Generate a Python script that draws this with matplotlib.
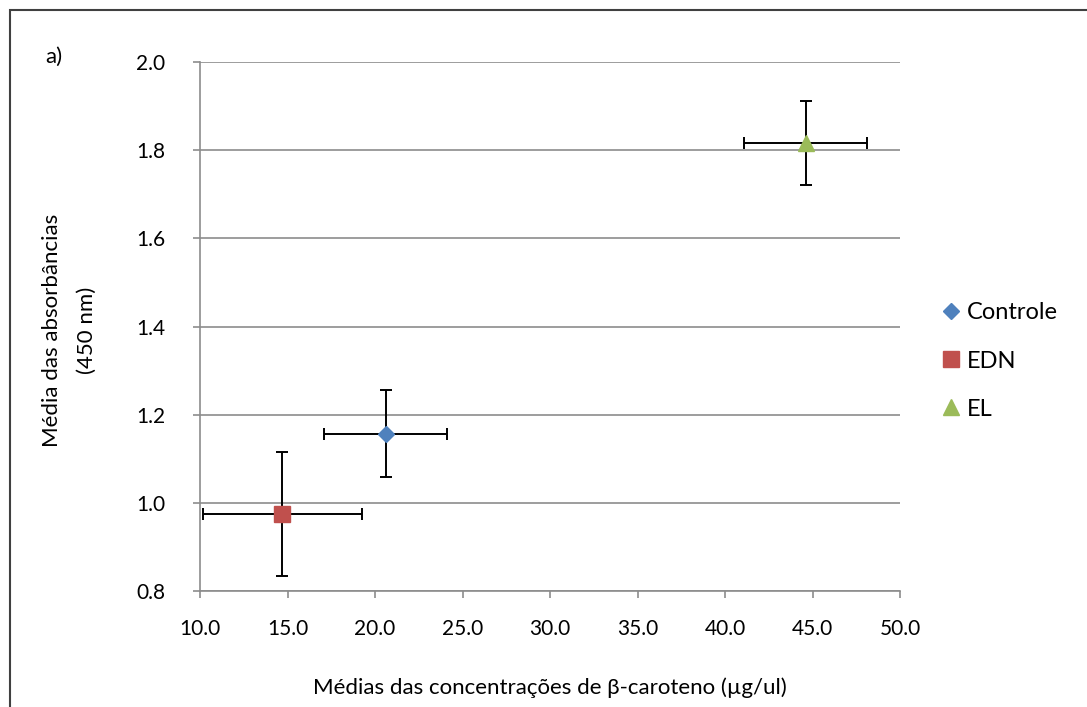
import numpy as np
import matplotlib.pyplot as plt
from matplotlib.patches import Rectangle

plt.rcParams['font.family'] = ['Lato', 'DejaVu Sans']

grupos = ['Controle', 'EDN', 'EL']
conc = [20.6, 14.7, 44.6]          # média beta-caroteno (µg/ul)
conc_err = [3.5, 4.55, 3.5]
absorb = [1.157, 0.975, 1.816]     # média absorbância 450 nm
absorb_err = [0.098, 0.141, 0.095]

cores = ['#4F81BD', '#C0504D', '#9BBB59']
marcadores = ['D', 's', '^']
tamanhos = [8, 11, 11]

fig = plt.figure(figsize=(10.87, 7.07), dpi=100)
ax = fig.add_axes([200 / 1087, 1 - 591 / 707, 700 / 1087, 529 / 707])

for i in range(len(grupos)):
    ax.errorbar(conc[i], absorb[i], xerr=conc_err[i], yerr=absorb_err[i],
                fmt='none', ecolor='black', elinewidth=1.4, capsize=4, capthick=1.4, zorder=3)
    ax.plot(conc[i], absorb[i], marker=marcadores[i], color=cores[i],
            markersize=tamanhos[i], linestyle='none', label=grupos[i], zorder=4)

ax.set_xlim(10, 50)
ax.set_ylim(0.8, 2.0)
ax.set_xticks(np.arange(10, 51, 5))
ax.set_yticks(np.arange(0.8, 2.01, 0.2))
ax.set_xticklabels([f'{v:.1f}' for v in np.arange(10, 51, 5)])
ax.set_yticklabels([f'{v:.1f}' for v in np.arange(0.8, 2.01, 0.2)])
ax.yaxis.grid(True, color='#8c8c8c', linewidth=1.2)
ax.set_axisbelow(True)
for s in ['top', 'right']:
    ax.spines[s].set_visible(False)
for s in ['left', 'bottom']:
    ax.spines[s].set_color('#8c8c8c')
    ax.spines[s].set_linewidth(1.2)
ax.tick_params(axis='both', colors='#8c8c8c', length=5, width=1.2, labelsize=15,
               labelcolor='black')
ax.tick_params(axis='x', pad=15)
ax.tick_params(axis='y', pad=20)

ax.set_xlabel('Médias das concentrações de β-caroteno (µg/ul)', fontsize=16, labelpad=28)
# rótulo do eixo y em duas linhas
fig.text(52 / 1087, 1 - 330 / 707, 'Média das absorbâncias', rotation=90,
         ha='center', va='center', fontsize=16)
fig.text(87 / 1087, 1 - 330 / 707, '(450 nm)', rotation=90,
         ha='center', va='center', fontsize=16)
fig.text(45 / 1087, 1 - 57 / 707, 'a)', fontsize=16, ha='left', va='center')

fig.legend(loc='center left', bbox_to_anchor=(913 / 1087, 1 - 361 / 707), frameon=False,
           fontsize=17, handletextpad=0.0, labelspacing=1.15, handlelength=1.4)

fig.patches.append(Rectangle((10 / 1087, -0.1), 1.2, 1.1 - 10 / 707, transform=fig.transFigure,
                             fill=False, edgecolor='#404040', linewidth=1.5))

fig.savefig('out.png', dpi=100)
